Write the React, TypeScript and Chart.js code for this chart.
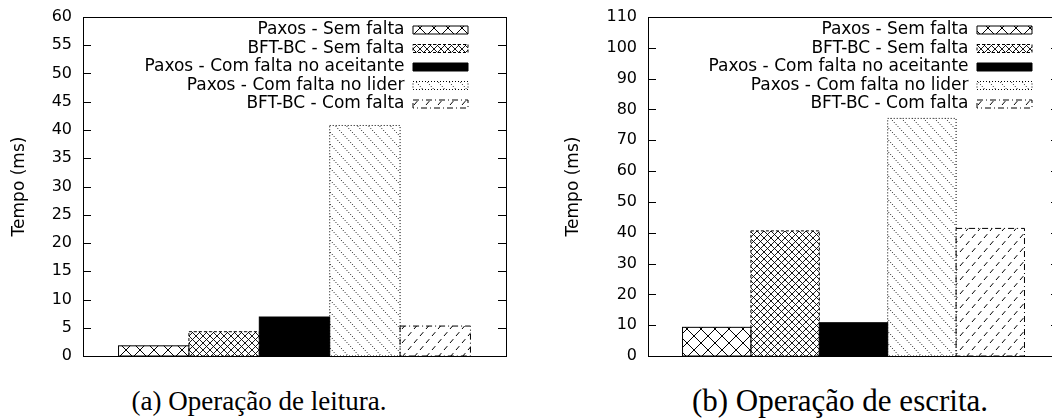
import React, { useEffect, useRef } from "react";
import { Chart, registerables } from "chart.js";

Chart.register(...registerables);

// ---------------- data ----------------
const SERIES_LABELS = [
  "Paxos - Sem falta",
  "BFT-BC - Sem falta",
  "Paxos - Com falta no aceitante",
  "Paxos - Com falta no lider",
  "BFT-BC - Com falta",
];
const READ_CATEGORIES = ["Operação de leitura"];
const READ_VALUES = [1.8, 4.3, 6.9, 40.8, 5.3];
const READ_Y_MAX = 60;
const READ_Y_STEP = 5;

const WRITE_CATEGORIES = ["Operação de escrita"];
const WRITE_VALUES = [9.3, 40.6, 10.8, 77.1, 41.4];
const WRITE_Y_MAX = 110;
const WRITE_Y_STEP = 10;

const Y_TITLE = "Tempo (ms)";
const CAPTION_READ = "(a) Operação de leitura.";
const CAPTION_WRITE = "(b) Operação de escrita.";

// ---------------- styles ----------------
const FONT = "'DejaVu Sans', sans-serif";
const BORDER_DASHES: number[][] = [[], [3, 2], [], [1, 2], [6, 3, 1, 3]];

type Dir = "\\" | "/";

function hatch(W: number, H: number, dirs: Dir[], color: string, width: number, dash: number[], dots = false) {
  const c = document.createElement("canvas");
  c.width = W;
  c.height = H;
  const g = c.getContext("2d")!;
  g.fillStyle = "#fff";
  g.fillRect(0, 0, W, H);
  g.strokeStyle = color;
  g.lineWidth = width;
  const L = Math.sqrt(W * W + H * H);
  if (dash.length) {
    const P = dash.reduce((a, b) => a + b, 0);
    const k = Math.max(1, Math.round(L / P));
    const s = L / (k * P);
    g.setLineDash(dash.map((d) => d * s));
  }
  for (const dir of dirs) {
    for (const dx of [-W, 0, W]) {
      g.beginPath();
      if (dir === "\\") {
        g.moveTo(dx - W, -H);
        g.lineTo(dx + 2 * W, 2 * H);
      } else {
        g.moveTo(dx - W, 2 * H);
        g.lineTo(dx + 2 * W, -H);
      }
      g.stroke();
    }
  }
  if (dots) {
    g.fillStyle = color;
    g.fillRect(W / 2 - 0.5, H / 2 - 0.5, 1, 1);
  }
  const ctx0 = document.createElement("canvas").getContext("2d")!;
  return ctx0.createPattern(c, "repeat")!;
}

function makePatterns(): (CanvasPattern | string)[] {
  return [
    hatch(14, 14, ["\\", "/"], "#000", 1, []),
    hatch(7, 7, ["\\", "/"], "#000", 0.9, [], true),
    "#000",
    hatch(11, 12, ["\\"], "#111", 1, [1, 1.6]),
    hatch(12, 14, ["/"], "#000", 1, [5, 4]),
  ];
}

const framePlugin = {
  id: "gnuplotFrame",
  afterDatasetsDraw(chart: any) {
    const ctx: CanvasRenderingContext2D = chart.ctx;
    const { left, right, top, bottom } = chart.chartArea;
    ctx.save();
    chart.data.datasets.forEach((_ds: any, i: number) => {
      const meta = chart.getDatasetMeta(i);
      meta.data.forEach((bar: any) => {
        const { x, y, base, width } = bar.getProps(["x", "y", "base", "width"], true);
        ctx.setLineDash(BORDER_DASHES[i]);
        ctx.lineWidth = 1;
        ctx.strokeStyle = "#000";
        ctx.strokeRect(x - width / 2, y, width, base - y);
      });
    });
    ctx.setLineDash([]);
    ctx.lineWidth = 1;
    ctx.strokeStyle = "#000";
    ctx.strokeRect(Math.round(left) + 0.5, Math.round(top) + 0.5, Math.round(right - left), Math.round(bottom - top));
    const ys = chart.scales.y;
    ys.ticks.forEach((t: any) => {
      const py = Math.round(ys.getPixelForValue(t.value)) + 0.5;
      ctx.beginPath();
      ctx.moveTo(left, py);
      ctx.lineTo(left + 8, py);
      ctx.moveTo(right - 8, py);
      ctx.lineTo(right, py);
      ctx.stroke();
    });
    ctx.restore();
  },
};

function legendPlacer(boxRight: number, top: number, pad: number) {
  return {
    id: "legendPlacer",
    afterLayout(chart: any) {
      const lg = chart.legend;
      if (!lg) return;
      const right = boxRight + pad;
      const h = chart.chartArea.bottom - chart.chartArea.top;
      lg.left = right - lg.width;
      lg.right = right;
      lg.top = top;
      lg.height = h;
      lg.bottom = top + h;
    },
  };
}

interface PanelProps {
  left: number;
  width: number;
  height: number;
  categories: string[];
  values: number[];
  yMax: number;
  yStep: number;
  axisWidth: number;
  padRight: number;
  titlePad: number;
  legendBoxRight: number;
}

function BarPanel(p: PanelProps) {
  const ref = useRef<HTMLCanvasElement>(null);
  useEffect(() => {
    const patterns = makePatterns();
    const LEG_PAD = 1.5;
    const chart = new Chart(ref.current!, {
      type: "bar",
      data: {
        labels: p.categories,
        datasets: SERIES_LABELS.map((label, i) => ({
          label,
          data: [p.values[i]],
          backgroundColor: patterns[i] as any,
          borderWidth: 0,
          categoryPercentage: 0.832,
          barPercentage: 1,
        })),
      },
      options: {
        responsive: false,
        maintainAspectRatio: false,
        animation: false,
        layout: { padding: { top: 17, right: p.padRight, bottom: 16, left: 0 } },
        scales: {
          x: { type: "category", display: false },
          y: {
            min: 0,
            max: p.yMax,
            ticks: { stepSize: p.yStep, color: "#000", font: { family: FONT, size: 16 }, padding: 3 },
            grid: { display: false, drawTicks: true, tickLength: 8 },
            border: { display: false },
            title: {
              display: true,
              text: Y_TITLE,
              color: "#000",
              font: { family: FONT, size: 17 },
              padding: { top: p.titlePad, bottom: 0 },
            },
            afterFit: (s: any) => {
              s.width = p.axisWidth;
            },
          },
        },
        plugins: {
          tooltip: { enabled: false },
          legend: {
            display: true,
            position: "chartArea" as any,
            fullSize: false,
            align: "start",
            rtl: true,
            textDirection: "ltr",
            labels: {
              boxWidth: 55,
              boxHeight: 8,
              padding: LEG_PAD,
              color: "#000",
              font: { family: FONT, size: 17 },
              generateLabels: (ch: any) =>
                (Chart.defaults.plugins.legend.labels.generateLabels as any)(ch).map((it: any, i: number) => ({
                  ...it,
                  lineWidth: 1,
                  strokeStyle: "#000",
                  lineDash: BORDER_DASHES[i],
                  fillStyle: ch.data.datasets[i].backgroundColor,
                })),
            },
          },
        },
      } as any,
      plugins: [framePlugin, legendPlacer(p.legendBoxRight, 20, LEG_PAD)],
    });
    return () => chart.destroy();
  }, []);
  return (
    <canvas
      ref={ref}
      width={p.width}
      height={p.height}
      style={{ position: "absolute", left: p.left, top: 0, width: p.width, height: p.height }}
    />
  );
}

export default function App() {
  return (
    <div
      style={{
        position: "absolute",
        left: 0,
        top: 0,
        width: 1052,
        height: 419,
        overflow: "hidden",
        background: "#fff",
      }}
    >
      <BarPanel
        left={0}
        width={520}
        height={372}
        categories={READ_CATEGORIES}
        values={READ_VALUES}
        yMax={READ_Y_MAX}
        yStep={READ_Y_STEP}
        axisWidth={83}
        padRight={14}
        titlePad={9.3}
        legendBoxRight={468}
      />
      <BarPanel
        left={540}
        width={530}
        height={372}
        categories={WRITE_CATEGORIES}
        values={WRITE_VALUES}
        yMax={WRITE_Y_MAX}
        yStep={WRITE_Y_STEP}
        axisWidth={108}
        padRight={11}
        titlePad={23.3}
        legendBoxRight={492}
      />
      <div
        style={{
          position: "absolute",
          left: 0,
          width: 518,
          top: 388,
          textAlign: "center",
          fontFamily: "'Liberation Serif', serif",
          fontSize: 27,
          lineHeight: "27px",
          color: "#000",
          whiteSpace: "nowrap",
        }}
      >
        {CAPTION_READ}
      </div>
      <div
        style={{
          position: "absolute",
          left: 640,
          width: 400,
          top: 385,
          textAlign: "center",
          fontFamily: "'Liberation Serif', serif",
          fontSize: 31,
          lineHeight: "31px",
          color: "#000",
          whiteSpace: "nowrap",
        }}
      >
        {CAPTION_WRITE}
      </div>
    </div>
  );
}
